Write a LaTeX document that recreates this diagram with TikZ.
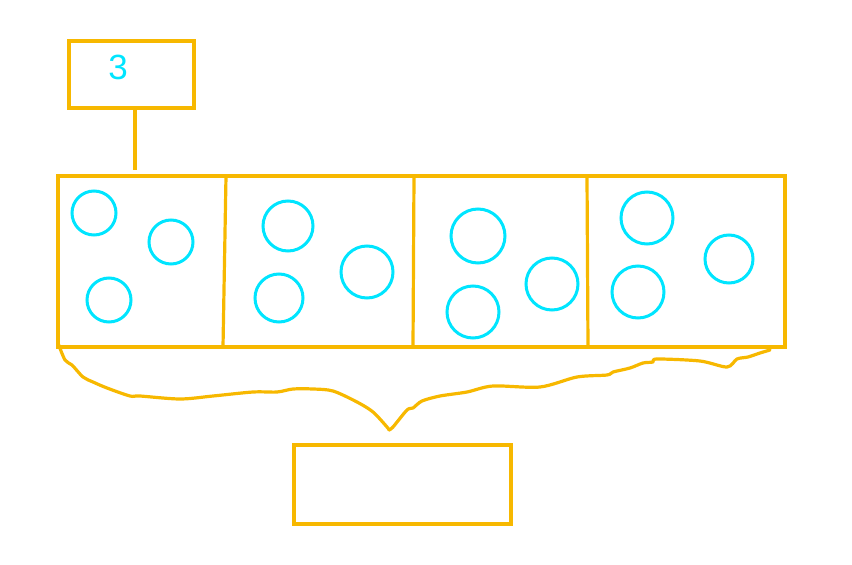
\documentclass[tikz,border=0pt]{standalone}
\usepackage{fontspec}
\setmainfont{Liberation Sans}
\definecolor{gold}{HTML}{F7B800}
\definecolor{cyanc}{HTML}{00E5FF}
\begin{document}
\begin{tikzpicture}[x=1pt,y=-1pt,
  box/.style={draw=gold,line width=3.2pt},
  ball/.style={draw=cyanc,line width=3pt},
  brace/.style={draw=gold,line width=3.2pt,line cap=round,line join=round}]
\useasboundingbox (0,0) rectangle (852,565);
% top box
\draw[box] (69,41) rectangle (194,108);
\node[text=cyanc,font=\fontsize{35}{35}\selectfont] (three) at (118,67) {3};
\coordinate (topb) at (135,108);
\coordinate (maint) at (135,170);
\draw[box] (topb) -- (maint);
% main rectangle
\draw[box] (58,176) rectangle (785,347);
\draw[box] (226,176) -- (223,347);
\draw[box] (414,176) -- (413,347);
\draw[box] (587,176) -- (588,347);
% circles
\draw[ball] (94,213) circle (22);
\draw[ball] (171,242) circle (22);
\draw[ball] (109,300) circle (22);
\draw[ball] (288,226) circle (25);
\draw[ball] (367,272) circle (26);
\draw[ball] (279,298) circle (24);
\draw[ball] (478,236) circle (27);
\draw[ball] (552,284) circle (26);
\draw[ball] (473,312) circle (26);
\draw[ball] (647,218) circle (26);
\draw[ball] (729,259) circle (24);
\draw[ball] (638,292) circle (26);
% bottom box
\draw[box] (294,445) rectangle (511,524);
% freehand brace
\draw[brace] plot[smooth,tension=0.5] coordinates {
 (58,343) (65,360) (72,365) (83,377) (93,382) (107,388) (130,396) (140,396)
 (180,399) (213,396) (253,392) (277,392) (293,389) (313,389) (333,391)
 (357,402) (373,412) (387,427) (389,430)};
\draw[brace] plot[smooth,tension=0.5] coordinates {
 (389,430) (393,427) (407,410) (413,408) (422,401) (440,396) (467,392)
 (493,386) (540,387) (577,377) (607,375) (613,372) (630,368) (643,363)
 (653,362) (657,359) (700,361) (727,367) (737,359) (748,357) (760,353) (770,350)};
\end{tikzpicture}
\end{document}
